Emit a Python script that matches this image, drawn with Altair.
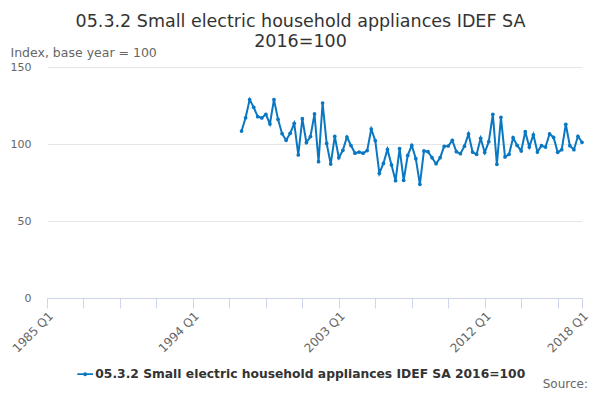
import altair as alt
import pandas as pd

series_name = "05.3.2 Small electric household appliances IDEF SA 2016=100"
axis_start_year = 1985
data_start_year = 1997
values = [
    108.4, 117.0, 128.8, 123.8, 117.7, 116.9, 119.3, 113.0, 128.8, 116.0,
    106.7, 102.4, 106.9, 113.4, 92.9, 116.4, 100.9, 104.8, 119.5, 88.5,
    126.6, 100.4, 87.0, 105.0, 91.1, 95.9, 104.5, 99.0, 94.0, 94.8,
    94.0, 95.7, 109.7, 102.2, 81.0, 87.4, 96.5, 86.4, 76.2, 97.0,
    76.4, 92.6, 99.1, 90.5, 73.8, 95.5, 95.0, 91.1, 87.2, 91.1,
    98.5, 98.7, 102.4, 95.0, 93.7, 98.6, 106.5, 94.8, 93.3, 103.7,
    94.4, 101.5, 119.3, 86.8, 117.3, 91.6, 93.3, 104.1, 99.1, 95.5,
    108.0, 98.0, 106.0, 94.8, 98.9, 98.0, 106.5, 104.3, 94.6, 96.3,
    112.8, 98.9, 96.3, 105.0, 101.1,
]
tick_values = [0, 9, 18, 27, 36, 45, 54, 63, 72, 81, 90, 99, 108, 117, 126, 132]
y_ticks = [0, 50, 100, 150]

offset = (data_start_year - axis_start_year) * 4
df = pd.DataFrame({
    "q": [offset + i for i in range(len(values))],
    "label": [f"{data_start_year + (i // 4)} Q{i % 4 + 1}" for i in range(len(values))],
    "value": values,
    "series": [series_name] * len(values),
})

color = "#0a77c2"
font = "DejaVu Sans"
sym = ("M-1.5,-0.17L1.5,-0.17L1.5,0.17L-1.5,0.17Z "
       "M0.38,0A0.38,0.38,0,1,1,-0.38,0A0.38,0.38,0,1,1,0.38,0Z")

label_expr = ("(datum.value % 36 == 0 || datum.value == 132) ? "
              f"(({axis_start_year} + floor(datum.value / 4)) + ' Q' + (datum.value % 4 + 1)) : ''")

line = alt.Chart(df).mark_line(
    point=alt.OverlayMarkDef(size=14, filled=True), strokeWidth=2
).encode(
    x=alt.X("q:Q", scale=alt.Scale(domain=[0, 132], nice=False, zero=False),
            axis=alt.Axis(values=tick_values, labelExpr=label_expr, title=None,
                          labelAngle=-45, labelAlign="right", labelBaseline="top",
                          labelColor="#666", labelFontSize=12, labelFont=font,
                          domainColor="#ccd6eb", tickColor="#ccd6eb", tickSize=10,
                          grid=False, labelPadding=2, labelOverlap=False)),
    y=alt.Y("value:Q", scale=alt.Scale(domain=[0, 150], nice=False),
            axis=alt.Axis(values=y_ticks, title="Index, base year = 100",
                          titleAngle=0, titleAlign="left", titleBaseline="middle",
                          titleX=-37, titleY=-15, titleColor="#666",
                          titleFontWeight="normal", titleFontSize=12.5, titleFont=font,
                          labelColor="#666", labelFontSize=11, labelFont=font,
                          labelPadding=16, ticks=False, domain=False,
                          gridColor="#e6e6e6")),
    color=alt.Color("series:N", scale=alt.Scale(range=[color]),
                    legend=alt.Legend(title=None, orient="none", legendX=32, legendY=301,
                                      symbolType=sym, symbolSize=110,
                                      symbolFillColor=color, symbolStrokeWidth=0,
                                      labelFontWeight="bold", labelFontSize=12.3,
                                      labelColor="#333", labelFont=font, labelLimit=600)),
    tooltip=["label:N", "value:Q"],
)

source = alt.Chart(pd.DataFrame({"t": ["Source:"]})).mark_text(
    align="right", baseline="alphabetic", fontSize=12, color="#666", font=font
).encode(x=alt.value(541), y=alt.value(321), text="t:N")

chart = alt.layer(line, source).properties(
    width=535, height=231,
    autosize=alt.AutoSizeParams(type="none"),
    padding={"left": 39, "top": 59, "right": 10, "bottom": 94},
    title=alt.TitleParams(
        text=["05.3.2 Small electric household appliances IDEF SA", "2016=100"],
        fontSize=17.5, font=font, color="#333", fontWeight="normal",
        anchor="middle", dx=-14, offset=-4, lineHeight=20),
).configure_view(stroke=None)

chart.save("out.html", embed_options={"renderer": "svg", "actions": False})
